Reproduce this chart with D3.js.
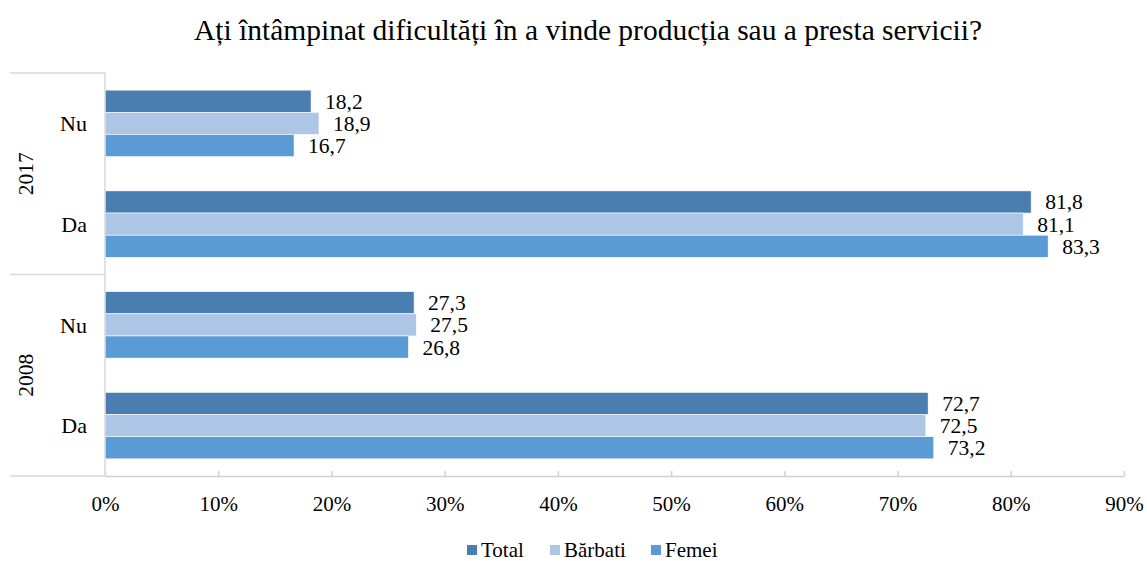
<!DOCTYPE html>
<html>
<head>
<meta charset="utf-8">
<script src="https://cdn.jsdelivr.net/npm/d3@7"></script>
<style>
  body { margin: 0; background: #fff; }
  svg text { font-family: "Liberation Serif", "Times New Roman", serif; fill: #000; }
</style>
</head>
<body>
<svg id="chart" width="1147" height="561"></svg>
<script>
// data
var years = ["2017", "2008"];
var answers = ["Nu", "Da"];
var seriesNames = ["Total", "Bărbati", "Femei"];
var seriesColors = ["#4a7db0", "#aec6e6", "#5b9bd5"];
var total   = [18.2, 81.8, 27.3, 72.7];
var barbati = [18.9, 81.1, 27.5, 72.5];
var femei   = [16.7, 83.3, 26.8, 73.2];
var xTicks = [0, 10, 20, 30, 40, 50, 60, 70, 80, 90];

var svg = d3.select("#chart");
var width = +svg.attr("width"),
    height = +svg.attr("height");

var plotLeft = 105, plotRight = 1124, plotTop = 73, plotBottom = 476;
var fontFam = "Liberation Serif, Times New Roman, serif";

// rows: year x answer
var rows = [];
years.forEach(function(y){
  answers.forEach(function(a){ rows.push(y + "|" + a); });
});
var values = [total, barbati, femei];

var x = d3.scaleLinear().domain([0, 90]).range([plotLeft, plotRight]);
var y0 = d3.scaleBand().domain(rows).range([plotTop, plotBottom]).paddingInner(0.34).paddingOuter(0.17);
var y1 = d3.scaleBand().domain(seriesNames).range([0, y0.bandwidth()]).padding(0);

// title
svg.append("text")
  .attr("x", 588).attr("y", 40)
  .attr("text-anchor", "middle")
  .attr("font-family", fontFam)
  .attr("font-size", 29.5)
  .text("Ați întâmpinat dificultăți în a vinde producția sau a presta servicii?");

// bars
var grp = svg.append("g").selectAll("g")
  .data(rows)
  .enter().append("g")
  .attr("transform", function(d){ return "translate(0," + y0(d) + ")"; });

grp.each(function(r, i){
  var g = d3.select(this);
  seriesNames.forEach(function(s, k){
    var v = values[k][i];
    g.append("rect")
      .attr("x", x(0))
      .attr("y", y1(s))
      .attr("width", x(v) - x(0))
      .attr("height", y1.bandwidth())
      .attr("fill", seriesColors[k])
      .attr("stroke", "#fff")
      .attr("stroke-width", 0.6);
    g.append("text")
      .attr("x", x(v) + 14)
      .attr("y", y1(s) + y1.bandwidth() / 2)
      .attr("dy", "0.35em")
      .attr("font-family", fontFam)
      .attr("font-size", 21.5)
      .text(d3.format(".1f")(v).replace(".", ","));
  });
});

// x axis
var xAxis = d3.axisBottom(x)
  .tickValues(xTicks)
  .tickSizeInner(-5)
  .tickSizeOuter(0)
  .tickPadding(20)
  .tickFormat(function(d){ return d + "%"; });

var ax = svg.append("g")
  .attr("transform", "translate(0," + plotBottom + ")")
  .call(xAxis);
ax.select(".domain").attr("stroke", "#d0d0d0").attr("stroke-width", 1.5);
ax.selectAll(".tick line").attr("stroke", "#d0d0d0").attr("stroke-width", 1.5);
ax.selectAll(".tick text")
  .attr("font-family", fontFam)
  .attr("font-size", 21)
  .attr("fill", "#000");

// y axis (grouped categories)
var lineColor = "#d9d9d9";
svg.append("line")
  .attr("x1", plotLeft).attr("x2", plotLeft)
  .attr("y1", plotTop).attr("y2", plotBottom)
  .attr("stroke", lineColor).attr("stroke-width", 1.5);

var sep = [plotTop, (plotTop + plotBottom) / 2, plotBottom];
svg.append("g").selectAll("line")
  .data(sep)
  .enter().append("line")
  .attr("x1", 10).attr("x2", plotLeft)
  .attr("y1", function(d){ return d; })
  .attr("y2", function(d){ return d; })
  .attr("stroke", lineColor).attr("stroke-width", 1.5);

svg.append("g").selectAll("text")
  .data(rows)
  .enter().append("text")
  .attr("x", 87)
  .attr("y", function(d){ return y0(d) + y0.bandwidth() / 2; })
  .attr("dy", "0.35em")
  .attr("text-anchor", "end")
  .attr("font-family", fontFam)
  .attr("font-size", 22)
  .text(function(d){ return d.split("|")[1]; });

svg.append("g").selectAll("text")
  .data(years)
  .enter().append("text")
  .attr("transform", function(d, i){
    var cy = (sep[i] + sep[i + 1]) / 2;
    return "translate(33," + cy + ") rotate(-90)";
  })
  .attr("text-anchor", "middle")
  .attr("font-family", fontFam)
  .attr("font-size", 21.5)
  .text(function(d){ return d; });

// legend
var legendX = [467, 550, 651];
var leg = svg.append("g").selectAll("g")
  .data(seriesNames)
  .enter().append("g")
  .attr("transform", function(d, i){ return "translate(" + legendX[i] + ",550)"; });
leg.append("rect")
  .attr("x", 0).attr("y", -5)
  .attr("width", 10).attr("height", 10)
  .attr("fill", function(d, i){ return seriesColors[i]; });
leg.append("text")
  .attr("x", 14).attr("y", 0)
  .attr("dy", "0.35em")
  .attr("font-family", fontFam)
  .attr("font-size", 21)
  .text(function(d){ return d; });
</script>
</body>
</html>
